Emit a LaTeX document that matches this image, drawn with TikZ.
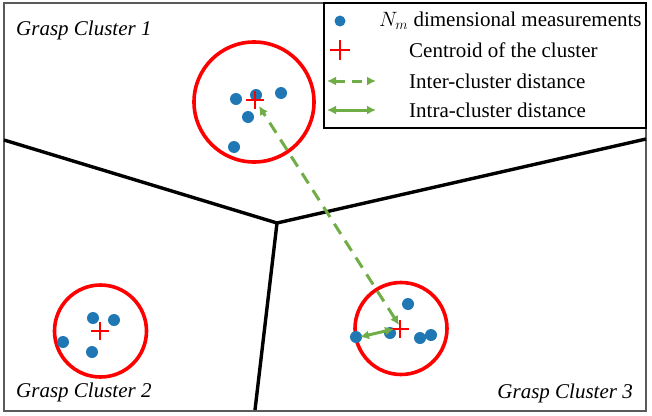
\documentclass[tikz,border=0pt]{standalone}
\usepackage{xcolor}
\usepackage{fontspec}
\setmainfont{Liberation Serif}
\usepackage{tikz}
\usetikzlibrary{arrows.meta}

\definecolor{ptblue}{RGB}{31,119,180}
\definecolor{distgreen}{RGB}{112,173,71}
\definecolor{framegray}{RGB}{90,90,90}

\begin{document}
\begin{tikzpicture}[x=1pt,y=-1pt,
	font=\fontsize{21}{25}\selectfont,
	dot/.style={fill=ptblue},
	centroid/.style={red,line width=2pt},
	clustcirc/.style={red,line width=3.6pt},
	dist/.style={distgreen,line width=3pt,{Latex[length=9pt,width=9pt]}-{Latex[length=9pt,width=9pt]}},
	border/.style={black,line width=3.4pt}]
	\useasboundingbox (0,0) rectangle (652,415);
	
	% Rahmen
	\draw[framegray,line width=1.5pt] (4,3) rectangle (646,411);
	
	% Grenzen
	\coordinate (J) at (277,223);
	\coordinate (Bl) at (4,140);
	\coordinate (Br) at (646,139);
	\coordinate (Bd) at (255,410);
	\draw[border] (Bl) -- (J) -- (Br);
	\draw[border] (J) -- (Bd);
	
	% Legende
	\draw[black,line width=1.2pt,fill=white] (324,3) rectangle (646,128);
	\fill[dot] (340,21) circle (5.5pt);
	\draw[centroid] (330,50) -- (350,50) (340,40) -- (340,60);
	\coordinate (l1) at (327,81);
	\coordinate (l2) at (376,81);
	\coordinate (l3) at (327,110);
	\coordinate (l4) at (376,110);
	\draw[dist,dash pattern=on 10pt off 7pt] (l1) -- (l2);
	\draw[dist] (l3) -- (l4);
	\node[anchor=west,inner sep=0pt] (t1) at (379,21) {$N_m$ dimensional measurements};
	\node[anchor=west,inner sep=0pt] (t2) at (409,50) {Centroid of the cluster};
	\node[anchor=west,inner sep=0pt] (t3) at (409,81) {Inter-cluster distance};
	\node[anchor=west,inner sep=0pt] (t4) at (409,110) {Intra-cluster distance};
	
	% Cluster 1
	\draw[clustcirc] (254,102) circle (60pt);
	\foreach \p in {(236,99),(256,95),(281,93),(248,117),(234,147)}
		\fill[dot] \p circle (6pt);
	\coordinate (c1) at (255,100);
	\draw[centroid] (c1) ++(-9,0) -- ++(18,0) (c1) ++(0,-9) -- ++(0,18);
	
	% Cluster 2
	\draw[clustcirc] (100.5,331) circle (46pt);
	\foreach \p in {(93,318),(114,320),(63,342),(92,352)}
		\fill[dot] \p circle (6pt);
	\coordinate (c2) at (100,331);
	\draw[centroid] (c2) ++(-9,0) -- ++(18,0) (c2) ++(0,-9) -- ++(0,18);
	
	% Cluster 3
	\draw[clustcirc] (401,328.5) circle (46pt);
	\foreach \p in {(408,304),(390,333),(420,338),(431,335)}
		\fill[dot] \p circle (6pt);
	\coordinate (p3) at (356,337);
	\fill[dot] (p3) circle (6pt);
	\coordinate (c3) at (400,329);
	\draw[centroid] (c3) ++(-9,0) -- ++(18,0) (c3) ++(0,-9) -- ++(0,18);
	
	% Abstaende
	\coordinate (a1) at (259,106);
	\coordinate (a3) at (399,325);
	\draw[dist,dash pattern=on 12pt off 8pt] (a3) -- (a1);
	\coordinate (b3) at (394,329);
	\coordinate (b1) at (360,337);
	\draw[dist] (b3) -- (b1);
	
	% Beschriftung
	\node[anchor=west,inner sep=0pt] (g1) at (16,30) {\itshape Grasp Cluster 1};
	\node[anchor=west,inner sep=0pt] (g2) at (16,392) {\itshape Grasp Cluster 2};
	\node[anchor=east,inner sep=0pt] (g3) at (633,393) {\itshape Grasp Cluster 3};
\end{tikzpicture}
\end{document}
